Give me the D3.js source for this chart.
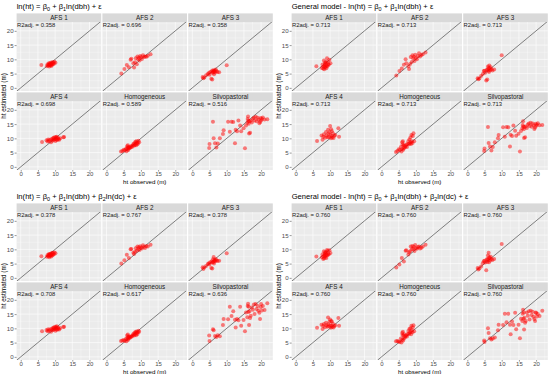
<!DOCTYPE html>
<html lang="en">
<head>
<meta charset="utf-8">
<title>ht observed vs estimated</title>
<script src="https://d3js.org/d3.v7.min.js"></script>
<style>
  body { margin: 0; background: #fff; }
  svg { display: block; }
</style>
</head>
<body>
<div id="my_dataviz"></div>
<script>

// facets, annotations, ticks
var facetNames = ["AFS 1", "AFS 2", "AFS 3", "AFS 4", "Homogeneous", "Silvopastoral"];
var r2Model1 = ["0.358", "0.696", "0.358", "0.698", "0.589", "0.516"];
var r2Model2 = ["0.713", "0.713", "0.713", "0.713", "0.713", "0.713"];
var r2Model3 = ["0.378", "0.767", "0.378", "0.708", "0.617", "0.636"];
var r2Model4 = ["0.760", "0.760", "0.760", "0.760", "0.760", "0.760"];
var tickValues = [0, 5, 10, 15, 20];
var minorValues = [2.5, 7.5, 12.5, 17.5, 22.5];

// observed heights (m), same trees in every model
var obsAFS1 = [6.0, 7.6, 7.8, 8.0, 8.1, 8.2, 8.3, 8.4, 8.5, 8.5, 8.6, 8.7, 8.8, 8.9, 9.0, 9.1, 9.2, 9.3, 9.5, 9.6, 9.8, 10.1];
var obsAFS2 = [4.3, 5.2, 5.9, 6.5, 7.0, 7.2, 7.8, 8.0, 8.3, 8.5, 8.8, 9.0, 9.2, 9.4, 9.6, 9.8, 10.0, 10.3, 10.6, 10.9, 11.2, 11.6, 12.0, 12.8];
var obsAFS3 = [3.0, 3.2, 3.5, 4.0, 4.5, 4.8, 5.0, 5.2, 5.5, 5.6, 5.8, 5.9, 6.0, 6.1, 6.2, 6.3, 6.4, 6.5, 6.6, 6.8, 7.0, 7.3, 7.8, 10.0];
var obsAFS4 = [6.2, 7.5, 7.8, 8.0, 8.2, 8.5, 8.8, 9.0, 9.2, 9.4, 9.5, 9.6, 9.8, 10.0, 10.1, 10.2, 10.3, 10.4, 10.5, 10.6, 10.8, 11.0, 11.2, 11.5, 12.4, 12.6];
var obsHomog = [4.2, 4.6, 5.0, 5.3, 5.6, 5.8, 6.0, 6.0, 6.1, 6.2, 6.3, 6.4, 6.5, 6.6, 6.8, 7.0, 7.2, 7.4, 7.6, 7.8, 8.0, 8.1, 8.2, 8.4, 8.5, 8.6, 8.7, 8.8, 9.0, 9.1, 9.3, 9.5];
var obsSilvo = [4.9, 5.0, 6.0, 6.2, 6.6, 7.0, 7.4, 8.0, 8.9, 9.1, 10.4, 10.9, 11.4, 11.9, 12.4, 12.6, 13.0, 13.4, 13.9, 14.2,
  14.9, 15.3, 15.6, 16.0, 16.1, 16.2, 16.3, 16.4, 16.5, 16.6, 16.8, 17.0, 17.3, 17.6, 17.9, 18.1, 18.4, 18.7, 19.0, 19.2,
  19.5, 19.7, 19.9, 20.0, 20.2, 20.5, 21.0, 21.8];
var observed = [obsAFS1, obsAFS2, obsAFS3, obsAFS4, obsHomog, obsSilvo];

// estimated heights (m), one list per facet in facet order
var estModel1 = [
  [8.0, 7.6, 8.3, 7.8, 8.1, 8.6, 7.5, 8.2, 8.4, 7.9, 8.8, 8.0, 8.5, 7.7, 8.3, 8.9, 8.1, 9.0, 8.6, 8.4, 9.2, 8.8],
  [5.0, 6.6, 8.0, 7.2, 9.9, 10.2, 8.6, 7.1, 9.0, 10.4, 8.3, 11.0, 10.0, 10.6, 9.6, 11.2, 10.7, 10.1, 11.4, 10.8, 11.0, 10.9, 11.3, 11.8],
  [3.8, 3.4, 3.6, 4.4, 4.9, 5.2, 4.6, 5.6, 3.2, 5.8, 2.9, 5.3, 6.2, 5.5, 5.9, 4.8, 6.1, 5.7, 5.4, 6.4, 5.9, 5.6, 5.5, 7.9],
  [8.7, 9.3, 8.9, 9.6, 9.1, 9.5, 8.6, 9.8, 9.2, 10.0, 9.4, 10.2, 9.7, 10.5, 9.1, 9.9, 10.3, 9.6, 10.6, 9.4, 10.1, 9.8, 9.5, 10.0, 10.4, 10.5],
  [5.4, 5.6, 6.0, 5.8, 6.3, 5.5, 7.2, 6.2, 6.7, 7.6, 5.9, 6.8, 6.4, 7.0, 6.6, 6.9, 7.3, 7.0, 7.5, 8.0, 7.4, 8.3, 7.7, 8.8, 8.1, 7.6, 9.0, 8.5, 7.9, 8.4, 9.2, 8.6],
  [6.6, 8.0, 15.8, 10.0, 8.3, 6.8, 8.2, 10.0, 11.5, 12.8, 15.8, 12.3, 15.8, 15.7, 8.3, 13.0, 12.5, 16.3, 14.5, 12.5,
   13.5, 6.5, 14.5, 15.5, 16.8, 17.7, 16.2, 15.1, 11.7, 16.0, 12.0, 16.2, 15.6, 16.9, 17.2, 16.3, 17.6, 16.0, 17.2, 16.6,
   15.3, 15.7, 17.1, 16.3, 16.8, 17.3, 16.6, 16.7]
];
var estModel2 = [
  [7.6, 7.0, 8.2, 6.8, 7.5, 9.6, 6.5, 7.8, 8.5, 7.2, 9.0, 7.4, 8.8, 6.9, 7.9, 10.4, 7.6, 9.2, 8.3, 8.1, 9.9, 8.6],
  [4.3, 5.9, 6.8, 8.1, 10.0, 8.6, 7.6, 6.6, 8.4, 10.8, 9.1, 11.4, 10.3, 10.9, 9.4, 11.6, 10.5, 10.0, 11.2, 12.1, 11.0, 11.5, 11.8, 12.4],
  [3.4, 3.0, 3.3, 4.2, 4.9, 5.9, 6.0, 5.3, 2.6, 6.3, 2.9, 6.4, 7.5, 6.0, 7.0, 5.6, 7.8, 6.8, 6.2, 7.2, 6.5, 6.1, 6.4, 11.4],
  [9.1, 11.0, 9.5, 10.6, 11.4, 10.2, 12.2, 11.0, 10.4, 13.0, 11.6, 10.5, 12.1, 14.3, 11.2, 10.0, 13.2, 10.8, 12.5, 10.3, 11.8, 10.1, 10.9, 11.2, 13.5, 10.6],
  [5.2, 5.6, 6.2, 5.9, 7.0, 5.4, 8.6, 6.3, 7.8, 9.0, 6.0, 7.4, 6.5, 7.6, 6.9, 7.2, 7.8, 7.0, 8.0, 9.0, 7.9, 9.6, 8.3, 10.3, 8.6, 8.0, 11.2, 9.0, 8.4, 10.8, 11.8, 9.0],
  [5.6, 6.4, 14.0, 8.4, 7.1, 5.7, 7.0, 8.6, 10.0, 11.2, 13.9, 10.6, 14.0, 13.9, 7.1, 11.3, 10.8, 14.5, 12.7, 10.9,
   11.6, 5.4, 12.6, 13.5, 14.7, 16.0, 14.2, 13.2, 10.1, 14.0, 10.4, 14.2, 13.6, 14.9, 15.2, 14.3, 15.5, 14.1, 15.2, 14.6,
   13.3, 13.8, 15.1, 14.4, 14.8, 15.3, 14.6, 14.7]
];
var estModel3 = [
  [7.6, 7.4, 8.0, 7.6, 7.9, 8.4, 7.2, 8.0, 8.2, 7.7, 8.5, 7.9, 8.3, 7.5, 8.1, 8.7, 7.9, 8.8, 8.4, 8.2, 8.9, 8.6],
  [5.0, 6.2, 8.1, 7.0, 10.0, 10.1, 8.8, 8.4, 9.2, 10.4, 9.5, 11.0, 10.1, 10.7, 9.8, 11.1, 10.6, 10.3, 11.4, 10.9, 10.5, 11.2, 11.0, 11.6],
  [3.7, 3.1, 3.6, 4.2, 4.9, 5.1, 4.7, 5.5, 3.5, 5.7, 3.3, 5.4, 6.5, 5.6, 7.3, 5.0, 6.3, 6.0, 5.8, 6.6, 6.2, 5.9, 6.0, 8.6],
  [9.0, 9.4, 9.0, 9.7, 9.2, 9.6, 8.8, 9.9, 9.3, 10.1, 9.5, 10.3, 9.8, 10.6, 9.2, 10.0, 10.4, 9.7, 10.7, 9.5, 10.2, 9.9, 9.6, 10.1, 10.5, 10.6],
  [5.6, 5.7, 5.9, 5.6, 6.3, 5.5, 7.5, 6.2, 6.8, 7.8, 6.0, 7.0, 6.5, 7.1, 6.7, 7.0, 7.2, 7.1, 7.6, 8.0, 7.5, 8.4, 7.8, 8.7, 8.2, 7.6, 8.9, 8.5, 8.0, 8.6, 9.2, 8.8],
  [7.5, 5.6, 9.7, 9.3, 7.3, 7.0, 7.6, 7.2, 11.2, 13.3, 13.2, 17.6, 14.3, 16.0, 13.0, 10.3, 13.3, 12.8, 17.6, 10.9,
   12.9, 9.0, 15.6, 13.9, 17.8, 18.6, 15.7, 17.6, 11.2, 16.0, 13.6, 14.4, 17.3, 16.5, 18.4, 15.0, 18.5, 16.8, 17.8, 16.2,
   15.5, 13.3, 17.5, 18.5, 16.3, 17.8, 16.4, 18.8]
];
var estModel4 = [
  [7.5, 7.2, 8.3, 6.6, 7.6, 9.3, 6.9, 8.0, 8.6, 7.4, 9.1, 7.7, 8.8, 7.0, 8.1, 9.8, 7.9, 9.4, 8.5, 8.2, 9.7, 8.7],
  [3.6, 4.7, 7.0, 5.7, 9.5, 9.7, 8.2, 9.0, 9.3, 11.0, 10.0, 11.2, 10.1, 10.9, 9.4, 11.5, 10.4, 10.2, 10.8, 11.0, 10.3, 10.6, 11.0, 11.6],
  [3.5, 2.9, 3.3, 4.0, 5.1, 5.8, 6.0, 5.4, 2.7, 6.4, 5.6, 6.6, 7.8, 6.2, 8.8, 5.5, 7.2, 6.9, 6.1, 7.4, 6.6, 6.3, 6.6, 11.9],
  [10.2, 11.3, 9.8, 10.9, 11.5, 10.4, 12.0, 11.1, 10.6, 13.8, 11.4, 10.7, 12.3, 13.1, 11.0, 10.2, 12.6, 10.9, 12.4, 10.5, 11.6, 10.3, 10.8, 11.1, 13.6, 10.9],
  [5.5, 5.6, 5.4, 5.2, 6.4, 5.0, 8.4, 6.0, 7.7, 8.8, 5.7, 7.4, 6.4, 7.9, 6.8, 7.3, 7.6, 7.1, 8.0, 9.1, 8.0, 9.8, 8.5, 10.0, 8.7, 7.9, 10.9, 9.3, 8.6, 10.3, 11.1, 9.0],
  [5.7, 5.2, 10.0, 8.4, 6.5, 6.1, 6.4, 6.8, 9.3, 11.3, 11.2, 15.1, 12.1, 15.1, 11.3, 7.9, 12.4, 11.2, 15.5, 9.7,
   11.3, 6.5, 13.4, 12.6, 15.1, 16.5, 13.4, 15.6, 9.6, 13.7, 12.0, 12.6, 15.6, 14.4, 16.0, 13.1, 16.2, 14.7, 15.8, 14.1,
   13.3, 12.6, 15.6, 15.4, 14.2, 15.0, 14.3, 16.2]
];

// titles: plain text pieces and subscripts
var titleModel1 = [["ln(ht) = β", ""], ["0", "sub"], [" + β", ""], ["1", "sub"], ["ln(dbh) + ε", ""]];
var titleModel2 = [["General model - ln(ht) = β", ""], ["0", "sub"], [" + β", ""], ["1", "sub"], ["ln(dbh) + ε", ""]];
var titleModel3 = [["ln(ht) = β", ""], ["0", "sub"], [" + β", ""], ["1", "sub"], ["ln(dbh) + β", ""], ["2", "sub"], ["ln(dc) + ε", ""]];
var titleModel4 = [["General model - ln(ht) = β", ""], ["0", "sub"], [" + β", ""], ["1", "sub"], ["ln(dbh) + β", ""], ["2", "sub"], ["ln(dc) + ε", ""]];

var models = [
  {title: titleModel1, r2: r2Model1, est: estModel1, dx: 0,   dy: 0},
  {title: titleModel2, r2: r2Model2, est: estModel2, dx: 275, dy: 0},
  {title: titleModel3, r2: r2Model3, est: estModel3, dx: 0,   dy: 190},
  {title: titleModel4, r2: r2Model4, est: estModel4, dx: 275, dy: 190}
];

// layout of one block of facets
var panelLeft = 16.6, panelStep = 85.8, pw = 84.6, ph = 69;
var rowTop = [22, 101], stripH = 8.6;

var x = d3.scaleLinear().domain([-1.2, 23.4]).range([0, pw]);
var y = d3.scaleLinear().domain([-1.1, 23.1]).range([ph, 0]);

var svg = d3.select("#my_dataviz")
  .append("svg")
    .attr("width", 550)
    .attr("height", 374)
    .style("font-family", "'Liberation Sans', Arial, sans-serif");

models.forEach(function(m, mi) {
  var g = svg.append("g").attr("transform", "translate(" + m.dx + "," + m.dy + ")");

  // title with subscripts
  var t = g.append("text").attr("x", 16.7).attr("y", 9).style("font-size", "7.6px").attr("fill", "#000");
  m.title.forEach(function(p) {
    var ts = t.append("tspan").text(p[0]);
    if (p[1] == "sub") ts.style("font-size", "5.4px").attr("dy", 1.6);
    else if (ts.node().previousSibling && ts.node().previousSibling.textContent.length == 1) ts.attr("dy", -1.6);
  });

  facetNames.forEach(function(name, i) {
    var col = i % 3, row = Math.floor(i / 3);
    var px = panelLeft + col * panelStep, py = rowTop[row];

    // strip
    g.append("rect").attr("x", px).attr("y", py - stripH).attr("width", pw).attr("height", stripH).attr("fill", "#D9D9D9");
    g.append("text").attr("x", px + pw / 2).attr("y", py - stripH / 2 + 2.2)
      .attr("text-anchor", "middle").style("font-size", "6.3px").attr("fill", "#1A1A1A").text(name);

    var p = g.append("g").attr("transform", "translate(" + px + "," + py + ")");
    var clipId = "clip" + mi + "_" + i;
    p.append("clipPath").attr("id", clipId).append("rect").attr("width", pw).attr("height", ph);
    p.append("rect").attr("width", pw).attr("height", ph).attr("fill", "#EBEBEB");

    // grid
    p.selectAll(".vmin").data(minorValues).enter().append("line")
      .attr("x1", function(d) { return x(d); }).attr("x2", function(d) { return x(d); })
      .attr("y1", 0).attr("y2", ph).attr("stroke", "#fff").attr("stroke-width", 0.3);
    p.selectAll(".hmin").data(minorValues).enter().append("line")
      .attr("y1", function(d) { return y(d); }).attr("y2", function(d) { return y(d); })
      .attr("x1", 0).attr("x2", pw).attr("stroke", "#fff").attr("stroke-width", 0.3);
    p.selectAll(".vmaj").data(tickValues).enter().append("line")
      .attr("x1", function(d) { return x(d); }).attr("x2", function(d) { return x(d); })
      .attr("y1", 0).attr("y2", ph).attr("stroke", "#fff").attr("stroke-width", 0.6);
    p.selectAll(".hmaj").data(tickValues).enter().append("line")
      .attr("y1", function(d) { return y(d); }).attr("y2", function(d) { return y(d); })
      .attr("x1", 0).attr("x2", pw).attr("stroke", "#fff").attr("stroke-width", 0.6);

    // 1:1 line
    p.append("line")
      .attr("clip-path", "url(#" + clipId + ")")
      .attr("x1", x(-1.2)).attr("y1", y(-1.2)).attr("x2", x(23.4)).attr("y2", y(23.4))
      .attr("stroke", "#222").attr("stroke-width", 0.55);

    // points
    var pts = observed[i].map(function(o, k) { return {obs: o, est: m.est[i][k]}; });
    p.append("g").attr("clip-path", "url(#" + clipId + ")")
      .selectAll("circle").data(pts).enter().append("circle")
        .attr("cx", function(d) { return x(d.obs); })
        .attr("cy", function(d) { return y(d.est); })
        .attr("r", 2)
        .attr("fill", "#FF0000")
        .attr("fill-opacity", 0.5);

    // R2 label
    p.append("text").attr("x", 0.3).attr("y", 5).style("font-size", "5.9px").attr("fill", "#1A1A1A")
      .text("R2adj. = " + m.r2[i]);

    // axes
    if (col == 0) {
      var ya = p.append("g").call(d3.axisLeft(y).tickValues(tickValues).tickSize(2).tickPadding(1));
      ya.select(".domain").remove();
      ya.selectAll(".tick line").attr("stroke", "#333").attr("stroke-width", 0.5);
      ya.selectAll(".tick text").attr("fill", "#4D4D4D").style("font-size", "6.1px").style("font-family", "'Liberation Sans', Arial, sans-serif");
    }
    if (row == 1) {
      var xa = p.append("g").attr("transform", "translate(0," + ph + ")")
        .call(d3.axisBottom(x).tickValues(tickValues).tickSize(1.6).tickPadding(0.6));
      xa.select(".domain").remove();
      xa.selectAll(".tick line").attr("stroke", "#333").attr("stroke-width", 0.5);
      xa.selectAll(".tick text").attr("fill", "#4D4D4D").style("font-size", "6px").style("font-family", "'Liberation Sans', Arial, sans-serif");
    }
  });

  // axis titles
  g.append("text").attr("x", panelLeft + (2 * panelStep + pw) / 2).attr("y", 183.6)
    .attr("text-anchor", "middle").style("font-size", "6.2px").attr("fill", "#000").text("ht observed (m)");
  g.append("text").attr("transform", "translate(5.5," + ((rowTop[0] + rowTop[1] + ph) / 2) + ") rotate(-90)")
    .attr("text-anchor", "middle").style("font-size", "6.3px").attr("fill", "#000").text("ht estimated (m)");
});

</script>
</body>
</html>
